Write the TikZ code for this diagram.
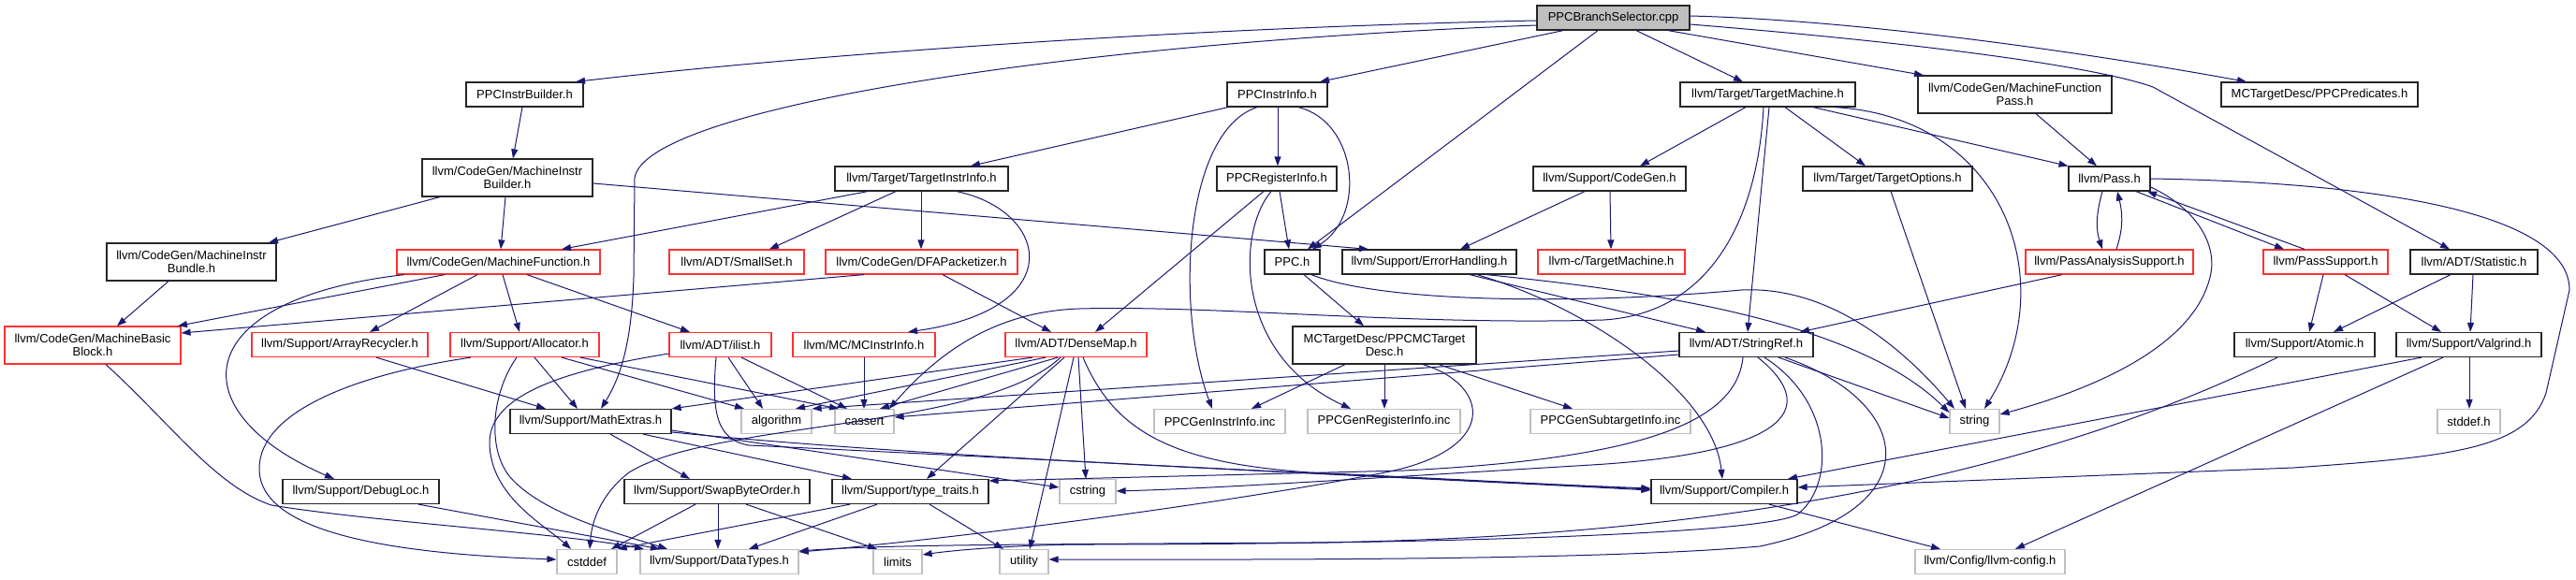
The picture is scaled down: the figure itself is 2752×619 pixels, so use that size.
\documentclass[tikz,border=0pt]{standalone}
\usepackage{fontspec}
\setmainfont{Liberation Sans}
\usetikzlibrary{arrows.meta}
\definecolor{edgec}{HTML}{191970}
\definecolor{redc}{HTML}{FF3030}
\definecolor{grayc}{HTML}{BFBFBF}
\definecolor{topfill}{HTML}{BFBFBF}
\begin{document}
\begin{tikzpicture}[x=1pt,y=-1pt,
  base/.style={rectangle, fill=white, inner sep=0pt, align=center, minimum height=26pt,
    font=\fontsize{13pt}{14.6pt}\selectfont, line width=1.2pt},
  blk/.style={base, draw=black!85},
  rdn/.style={base, draw=redc},
  gry/.style={base, draw=grayc},
  topn/.style={base, draw=black!85, fill=topfill},
  edg/.style={draw=edgec, line width=1pt, -{Triangle[length=10pt,width=7pt]}},
]
\useasboundingbox (0,0) rectangle (2752,619);

% ---------- nodes ----------
\node[topn, minimum width=163pt] (top) at (1723.5,19) {PPCBranchSelector.cpp};
\node[blk, minimum width=125pt] (pib) at (560.5,101) {PPCInstrBuilder.h};
\node[blk, minimum width=107pt] (pii) at (1364.5,101) {PPCInstrInfo.h};
\node[blk, minimum width=187pt] (ttm) at (1888.5,101) {llvm/Target/TargetMachine.h};
\node[blk, minimum width=207pt, minimum height=40pt] (mfp) at (2152.5,101) {llvm/CodeGen/MachineFunction\\Pass.h};
\node[blk, minimum width=210pt] (pred) at (2478,101) {MCTargetDesc/PPCPredicates.h};
\node[blk, minimum width=182pt, minimum height=40pt] (mib) at (542,190) {llvm/CodeGen/MachineInstr\\Builder.h};
\node[blk, minimum width=185pt] (tii) at (984.5,191) {llvm/Target/TargetInstrInfo.h};
\node[blk, minimum width=128pt] (pri) at (1364,191) {PPCRegisterInfo.h};
\node[blk, minimum width=163pt] (cg) at (1719.5,191) {llvm/Support/CodeGen.h};
\node[blk, minimum width=181pt] (topt) at (2016.5,191) {llvm/Target/TargetOptions.h};
\node[blk, minimum width=87pt] (pass) at (2253.5,191) {llvm/Pass.h};
\node[blk, minimum width=181pt, minimum height=40pt] (mibun) at (204.5,280) {llvm/CodeGen/MachineInstr\\Bundle.h};
\node[rdn, minimum width=217pt] (mf) at (532.5,280) {llvm/CodeGen/MachineFunction.h};
\node[rdn, minimum width=144pt] (sset) at (787,280) {llvm/ADT/SmallSet.h};
\node[rdn, minimum width=205pt] (dfa) at (984.5,280) {llvm/CodeGen/DFAPacketizer.h};
\node[blk, minimum width=59pt] (ppc) at (1380.5,280) {PPC.h};
\node[blk, minimum width=186pt] (eh) at (1527,280) {llvm/Support/ErrorHandling.h};
\node[rdn, minimum width=157pt] (ctm) at (1721.5,280) {llvm-c/TargetMachine.h};
\node[rdn, minimum width=179pt] (pas) at (2253.5,280) {llvm/PassAnalysisSupport.h};
\node[rdn, minimum width=133pt] (ps) at (2484.5,280) {llvm/PassSupport.h};
\node[blk, minimum width=136pt] (stat) at (2643,280) {llvm/ADT/Statistic.h};
\node[rdn, minimum width=188pt, minimum height=40pt] (mbb) at (99,369) {llvm/CodeGen/MachineBasic\\Block.h};
\node[rdn, minimum width=188pt] (ar) at (363,368.5) {llvm/Support/ArrayRecycler.h};
\node[rdn, minimum width=159pt] (alloc) at (560.5,368.5) {llvm/Support/Allocator.h};
\node[rdn, minimum width=109pt] (ilist) at (769.5,368.5) {llvm/ADT/ilist.h};
\node[rdn, minimum width=152pt] (mcii) at (923,368.5) {llvm/MC/MCInstrInfo.h};
\node[rdn, minimum width=151pt] (dm) at (1149.5,368.5) {llvm/ADT/DenseMap.h};
\node[blk, minimum width=196pt, minimum height=40pt] (pmctd) at (1479,369) {MCTargetDesc/PPCMCTarget\\Desc.h};
\node[blk, minimum width=143pt] (sref) at (1865.5,368.5) {llvm/ADT/StringRef.h};
\node[blk, minimum width=150pt] (atomic) at (2462,368.5) {llvm/Support/Atomic.h};
\node[blk, minimum width=155pt] (valg) at (2637.5,368.5) {llvm/Support/Valgrind.h};
\node[blk, minimum width=172pt] (mex) at (631,450.5) {llvm/Support/MathExtras.h};
\node[gry, minimum width=75pt] (algo) at (829.5,450.5) {algorithm};
\node[gry, minimum width=63pt] (cass) at (923.5,450.5) {cassert};
\node[gry, minimum width=140pt] (pgii) at (1303,450.5) {PPCGenInstrInfo.inc};
\node[gry, minimum width=163pt] (pgri) at (1478.5,450.5) {PPCGenRegisterInfo.inc};
\node[gry, minimum width=171pt] (pgsi) at (1720.5,450.5) {PPCGenSubtargetInfo.inc};
\node[gry, minimum width=53pt] (str) at (2109.5,450.5) {string};
\node[gry, minimum width=67pt] (stddef) at (2637.5,450.5) {stddef.h};
\node[blk, minimum width=167pt] (dl) at (385.5,525.5) {llvm/Support/DebugLoc.h};
\node[blk, minimum width=198pt] (sbo) at (766,525.5) {llvm/Support/SwapByteOrder.h};
\node[blk, minimum width=167pt] (tt) at (972.5,525.5) {llvm/Support/type\_traits.h};
\node[gry, minimum width=60pt] (cstr) at (1162,525.5) {cstring};
\node[blk, minimum width=156pt] (comp) at (1842,525.5) {llvm/Support/Compiler.h};
\node[gry, minimum width=64pt] (cstddef) at (627,600.5) {cstddef};
\node[gry, minimum width=169pt] (dt) at (768.5,600.5) {llvm/Support/DataTypes.h};
\node[gry, minimum width=52pt] (limits) at (959,600.5) {limits};
\node[gry, minimum width=52pt] (util) at (1094,600.5) {utility};
\node[gry, minimum width=160pt] (cfg) at (2126,600.5) {llvm/Config/llvm-config.h};

% ---------- edges ----------
% from the source file
\draw[edg] (top.west |- 0,22) .. controls (1250,30) and (850,60) .. (pib.north -| 615,0);
\draw[edg] (top.west |- 0,27) .. controls (1150,45) and (690,115) .. (678,190) -- (677,296) .. controls (675,360) and (665,400) .. (mex.north -| 642,0);
\draw[edg] (top.south -| 1670,0) -- (pii.north -| 1410,0);
\draw[edg] (top.south -| 1707,0) -- (ppc.north -| 1397,0);
\draw[edg] (top.south -| 1748,0) -- (ttm.north -| 1862,0);
\draw[edg] (top.south -| 1782,0) -- (mfp.north -| 2055,0);
\draw[edg] (top.east |- 0,17) .. controls (2000,22) and (2250,60) .. (pred.north -| 2400,0);
\draw[edg] (top.east |- 0,26) .. controls (2100,50) and (2250,75) .. (2300,93) -- (stat.north -| 2617,0);

% PPCInstrBuilder / MachineInstrBuilder / Bundle
\draw[edg] (pib.south -| 558,0) -- (mib.north -| 548,0);
\draw[edg] (mib.south -| 470,0) -- (mibun.north -| 287,0);
\draw[edg] (mib.south -| 540,0) -- (mf.north -| 535,0);
\draw[edg] (mib.east |- 0,196) -- (eh.north -| 1462,0);
\draw[edg] (mibun.south -| 180,0) -- (mbb.north -| 125,0);

% MachineFunction
\draw[edg] (mf.south -| 475,0) -- (mbb.north -| 190,0);
\draw[edg] (mf.south -| 510,0) -- (ar.north -| 395,0);
\draw[edg] (mf.south -| 537,0) -- (alloc.north -| 555,0);
\draw[edg] (mf.south -| 563,0) -- (ilist.north -| 737,0);
\draw[edg] (mf.south -| 432,0) .. controls (200,320) and (190,440) .. (dl.north -| 357,0);

% TargetInstrInfo
\draw[edg] (tii.south -| 927,0) -- (mf.north -| 600,0);
\draw[edg] (tii.south -| 957,0) -- (sset.north -| 822,0);
\draw[edg] (tii.south -| 984,0) -- (dfa.north -| 984,0);
\draw[edg] (tii.south -| 1022,0) .. controls (1120,225) and (1145,330) .. (mcii.north -| 970,0);

% DFAPacketizer
\draw[edg] (dfa.south -| 923,0) -- (mbb.east |- 0,356);
\draw[edg] (dfa.south -| 1007,0) -- (dm.north -| 1123,0);

% PPCInstrInfo
\draw[edg] (pii.south -| 1312,0) -- (tii.north -| 1037,0);
\draw[edg] (pii.south -| 1365,0) -- (pri.north -| 1365,0);
\draw[edg] (pii.south -| 1343,0) .. controls (1265,140) and (1255,330) .. (pgii.north -| 1295,0);
\draw[edg] (pii.south -| 1387,0) .. controls (1450,130) and (1460,230) .. (ppc.north -| 1402,0);

% PPCRegisterInfo
\draw[edg] (pri.south -| 1350,0) -- (dm.north -| 1170,0);
\draw[edg] (pri.south -| 1367,0) -- (ppc.north -| 1377,0);
\draw[edg] (pri.south -| 1358,0) .. controls (1320,250) and (1320,380) .. (pgri.north -| 1443,0);

% TargetMachine
\draw[edg] (ttm.south -| 1865,0) -- (cg.north -| 1752,0);
\draw[edg] (ttm.south -| 1907,0) -- (topt.north -| 1993,0);
\draw[edg] (ttm.south -| 1937,0) -- (pass.north west);
\draw[edg] (ttm.south -| 1890,0) -- (sref.north -| 1867,0);
\draw[edg] (ttm.south -| 1960,0) .. controls (2140,125) and (2205,300) .. (str.north -| 2120,0);
\draw[edg] (ttm.south -| 1884,0) .. controls (1878,230) and (1830,335) .. (1713,342) .. controls (1500,348) and (1300,326) .. (1153,330) .. controls (1060,333) and (1000,380) .. (cass.north -| 950,0);

% MachineFunctionPass, CodeGen, TargetOptions
\draw[edg] (mfp.south -| 2175,0) -- (pass.north -| 2240,0);
\draw[edg] (cg.south -| 1693,0) -- (eh.north -| 1560,0);
\draw[edg] (cg.south -| 1720,0) -- (ctm.north -| 1721,0);
\draw[edg] (topt.south -| 2020,0) -- (str.north -| 2100,0);

% Pass
\draw[edg] (pass.south -| 2246,0) .. controls (2239,230) and (2239,245) .. (pas.north -| 2246,0);
\draw[edg] (pas.north -| 2261,0) .. controls (2268,245) and (2268,230) .. (pass.south -| 2262,0);
\draw[edg] (pass.south -| 2282,0) -- (ps.north -| 2440,0);
\draw[edg] (ps.north -| 2462,0) -- (pass.south -| 2294,0);
\draw[edg] (pass.east |- 0,200) .. controls (2345,222) and (2372,262) .. (2360,300) .. controls (2340,370) and (2240,415) .. (str.east |- 0,443);
\draw[edg] (pass.east |- 0,191) .. controls (2550,195) and (2745,230) .. (2745,310) -- (2720,420) .. controls (2700,480) and (2620,488) .. (2450,500) -- (comp.east |- 0,521);

% PassAnalysisSupport, PassSupport, Statistic
\draw[edg] (pas.south -| 2203,0) -- (sref.north -| 1923,0);
\draw[edg] (ps.south -| 2482,0) -- (atomic.north -| 2467,0);
\draw[edg] (ps.south -| 2505,0) -- (valg.north -| 2608,0);
\draw[edg] (stat.south -| 2618,0) -- (atomic.north -| 2493,0);
\draw[edg] (stat.south -| 2642,0) -- (valg.north -| 2639,0);

% Valgrind, Atomic, Compiler
\draw[edg] (valg.south -| 2638,0) -- (stddef.north -| 2638,0);
\draw[edg] (valg.south -| 2587,0) -- (comp.north -| 1910,0);
\draw[edg] (valg.south -| 2610,0) -- (cfg.north -| 2153,0);
\draw[edg] (atomic.south -| 2433,0) .. controls (2150,520) and (1800,575) .. (1400,580) .. controls (1100,582) and (950,582) .. (dt.east |- 0,589);
\draw[edg] (comp.south -| 1890,0) -- (cfg.north -| 2073,0);

% ErrorHandling
\draw[edg] (eh.south -| 1570,0) -- (sref.north -| 1822,0);
\draw[edg] (eh.south -| 1578,0) .. controls (1700,330) and (1830,420) .. (comp.north -| 1840,0);
\draw[edg] (eh.south -| 1588,0) .. controls (1750,310) and (1980,340) .. (str.west |- 0,441);

% PPC.h
\draw[edg] (ppc.south -| 1393,0) -- (pmctd.north -| 1457,0);
\draw[edg] (ppc.south -| 1401,0) .. controls (1480,325) and (1700,325) .. (1860,310) .. controls (1960,305) and (2040,380) .. (str.north -| 2088,0);

% PPCMCTargetDesc
\draw[edg] (pmctd.south -| 1437,0) -- (pgii.north -| 1337,0);
\draw[edg] (pmctd.south -| 1479,0) -- (pgri.north -| 1479,0);
\draw[edg] (pmctd.south -| 1537,0) -- (pgsi.north -| 1680,0);
\draw[edg] (pmctd.south -| 1520,0) .. controls (1590,410) and (1605,480) .. (1480,505) .. controls (1300,540) and (1000,578) .. (dt.east |- 0,590);

% StringRef
\draw[edg] (sref.west |- 0,375) -- (algo.north east);
\draw[edg] (sref.west |- 0,379) -- (cass.east |- 0,446);
\draw[edg] (sref.south -| 1900,0) -- (str.west |- 0,447);
\draw[edg] (sref.south -| 1862,0) .. controls (1855,450) and (1760,490) .. (1500,503) -- (tt.east |- 0,514);
\draw[edg] (sref.south -| 1878,0) .. controls (1950,440) and (1900,485) .. (1700,497) .. controls (1450,512) and (1300,522) .. (cstr.east |- 0,525);
\draw[edg] (sref.south -| 1885,0) .. controls (1960,430) and (1960,520) .. (1920,550) .. controls (1880,572) and (1500,582) .. (1150,582) .. controls (1080,583) and (1020,588) .. (limits.east |- 0,593);
\draw[edg] (sref.south -| 1907,0) .. controls (2045,430) and (2065,545) .. (1880,584) .. controls (1700,600) and (1300,598) .. (util.east |- 0,598);

% DenseMap
\draw[edg] (dm.south -| 1103,0) -- (mex.north east);
\draw[edg] (dm.south -| 1117,0) -- (algo.north -| 850,0);
\draw[edg] (dm.south -| 1130,0) -- (cass.north -| 940,0);
\draw[edg] (dm.south -| 1137,0) -- (tt.north -| 990,0);
\draw[edg] (dm.south -| 1133,0) .. controls (1050,460) and (760,450) .. (672,505) .. controls (640,530) and (632,560) .. (cstddef.north -| 630,0);
\draw[edg] (dm.south -| 1147,0) -- (util.north -| 1100,0);
\draw[edg] (dm.south -| 1152,0) -- (cstr.north -| 1160,0);
\draw[edg] (dm.south -| 1157,0) .. controls (1190,460) and (1250,495) .. (1400,505) .. controls (1550,512) and (1700,520) .. (comp.west |- 0,523);

% MathExtras
\draw[edg] (mex.south -| 652,0) -- (sbo.north -| 737,0);
\draw[edg] (mex.south -| 687,0) -- (tt.north -| 910,0);
\draw[edg] (mex.east |- 0,460) -- (cstr.west |- 0,521);
\draw[edg] (mex.east |- 0,462) .. controls (1000,490) and (1400,505) .. (comp.west |- 0,524);

% ilist
\draw[edg] (ilist.south -| 778,0) -- (algo.north -| 815,0);
\draw[edg] (ilist.south -| 792,0) -- (cass.north -| 905,0);
\draw[edg] (ilist.west |- 0,378) .. controls (610,395) and (522,420) .. (523,474) .. controls (524,530) and (580,560) .. (cstddef.north -| 610,0);
\draw[edg] (ilist.south -| 765,0) .. controls (760,440) and (765,470) .. (800,476) .. controls (1100,490) and (1500,512) .. (comp.west |- 0,522);

% Allocator
\draw[edg] (alloc.south -| 571,0) -- (mex.north -| 617,0);
\draw[edg] (alloc.south -| 600,0) -- (algo.north -| 795,0);
\draw[edg] (alloc.south -| 620,0) -- (cass.north -| 896,0);
\draw[edg] (alloc.south -| 503,0) .. controls (380,400) and (277,440) .. (277,501) .. controls (277,570) and (420,592) .. (cstddef.west |- 0,598);
\draw[edg] (alloc.south -| 552,0) .. controls (525,420) and (520,480) .. (545,510) .. controls (580,550) and (660,570) .. (dt.north -| 713,0);

% ArrayRecycler, MCInstrInfo
\draw[edg] (ar.south -| 402,0) -- (mex.north -| 583,0);
\draw[edg] (mcii.south -| 923,0) -- (cass.north -| 923,0);

% MachineBasicBlock, DebugLoc
\draw[edg] (mbb.south -| 113,0) .. controls (180,450) and (230,520) .. (290,540) .. controls (400,558) and (600,570) .. (dt.north -| 688,0);
\draw[edg] (dl.south -| 447,0) -- (dt.north -| 705,0);

% SwapByteOrder, type_traits
\draw[edg] (sbo.south -| 743,0) -- (cstddef.north -| 653,0);
\draw[edg] (sbo.south -| 767,0) -- (dt.north -| 767,0);
\draw[edg] (sbo.south -| 797,0) -- (limits.north -| 937,0);
\draw[edg] (tt.south -| 908,0) -- (cstddef.north east);
\draw[edg] (tt.south -| 937,0) -- (dt.north -| 800,0);
\draw[edg] (tt.south -| 993,0) -- (util.north -| 1072,0);
\end{tikzpicture}
\end{document}
